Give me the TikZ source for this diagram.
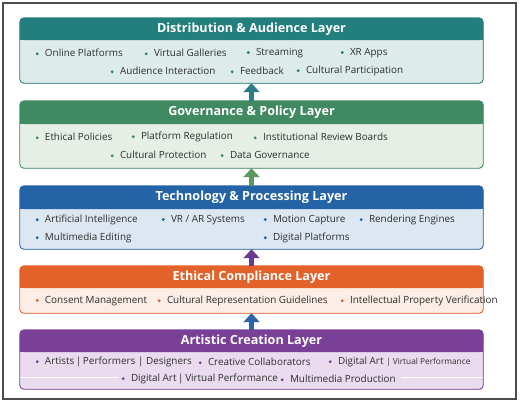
\documentclass[tikz,border=0pt]{standalone}
\usepackage{fontspec}
\setmainfont{Open Sans}
\usetikzlibrary{arrows.meta, shadows}
\definecolor{distHd}{HTML}{237F7E}
\definecolor{distBg}{HTML}{DDECEA}
\definecolor{distAr}{HTML}{2A7D89}
\definecolor{govHd}{HTML}{3F8A60}
\definecolor{govBg}{HTML}{E6EFE6}
\definecolor{govAr}{HTML}{5C995F}
\definecolor{techHd}{HTML}{2464A6}
\definecolor{techBg}{HTML}{DDE7F1}
\definecolor{techAr}{HTML}{6A3B8F}
\definecolor{ethHd}{HTML}{E2622A}
\definecolor{ethBg}{HTML}{FCEEE6}
\definecolor{ethAr}{HTML}{2D65A8}
\definecolor{artHd}{HTML}{7A3F97}
\definecolor{artBg}{HTML}{EADBEF}
\definecolor{txt}{HTML}{2E2E2E}
\tikzset{layer/.style={minimum width=463pt, inner sep=0pt, rounded corners=4pt, fill=#1, drop shadow={opacity=0.18, shadow xshift=0.8pt, shadow yshift=-1.2pt}}}
\tikzset{title/.style={text=white, inner sep=0pt, font=\bfseries\fontsize{12.6}{14}\selectfont}}
\tikzset{item/.style={anchor=west, inner sep=0pt, text=txt, font=\fontsize{9.9}{12}\selectfont}}
\tikzset{uparrow/.style={#1, line width=5pt, -{Triangle[width=16pt, length=9pt]}}}
\newcommand{\bul}[1]{\tikz[baseline=-2.9pt]\fill[#1] (0,0) circle (1.6pt);\hspace{6.2pt}}

\begin{document}
\begin{tikzpicture}[x=1pt, y=-1pt]
\useasboundingbox (0,0) rectangle (520,402);
\fill[white] (0,0) rectangle (520,402);
\draw[line width=1.2pt, black!70] (3,3) rectangle (516,399);
% layer boxes: name/header/body/top/header bottom/bottom
\foreach \nm/\hd/\bg/\ya/\yh/\yb in {dist/distHd/distBg/18/40/83, gov/govHd/govBg/101/124/168, tech/techHd/techBg/186/209/249, eth/ethHd/ethBg/266/288/313, art/artHd/artBg/330/352/389}{
  \pgfmathsetmacro\cy{(\ya+\yb)/2}
  \pgfmathsetmacro\lh{\yb-\ya}
  \node[layer=\bg, minimum height=\lh pt] (\nm) at (251.5,\cy) {};
  \fill[\hd, rounded corners=4pt] (20,\ya) rectangle (483,\yh);
  \fill[\hd] (20,\yh-8) rectangle (483,\yh);
  \draw[\hd, line width=0.8pt, rounded corners=4pt] (\nm.north west) rectangle (\nm.south east);
}
% titles
\node[title] (distT) at (251.5,29) {Distribution \& Audience Layer};
\node[title] (govT) at (251.5,112.5) {Governance \& Policy Layer};
\node[title] (techT) at (251.5,197.5) {Technology \& Processing Layer};
\node[title] (ethT) at (251.5,277) {Ethical Compliance Layer};
\node[title] (artT) at (251.5,341) {Artistic Creation Layer};
% distribution items
\node[item] (d1) at (35.4,53) {\bul{distHd}Online Platforms};
\node[item] (d2) at (144.4,53) {\bul{distHd}Virtual Galleries};
\node[item] (d3) at (246.4,53) {\bul{distHd}Streaming};
\node[item] (d4) at (340.4,53) {\bul{distHd}XR Apps};
\node[item] (d5) at (110.4,71) {\bul{distHd}Audience Interaction};
\node[item] (d6) at (230.4,71) {\bul{distHd}Feedback};
\node[item] (d7) at (296.4,71) {\bul{distHd}Cultural Participation};
% governance items
\node[item] (g1) at (35.4,137) {\bul{govHd}Ethical Policies};
\node[item] (g2) at (131.4,137) {\bul{govHd}Platform Regulation};
\node[item] (g3) at (253.4,137) {\bul{govHd}Institutional Review Boards};
\node[item] (g4) at (110.4,155) {\bul{govHd}Cultural Protection};
\node[item] (g5) at (220.4,155) {\bul{govHd}Data Governance};
% technology items
\node[item] (t1) at (35.4,220) {\bul{techHd}Artificial Intelligence};
\node[item] (t2) at (161.4,220) {\bul{techHd}VR / AR Systems};
\node[item] (t3) at (263.4,220) {\bul{techHd}Motion Capture};
\node[item] (t4) at (359.4,220) {\bul{techHd}Rendering Engines};
\node[item] (t5) at (35.4,238) {\bul{techHd}Multimedia Editing};
\node[item] (t6) at (263.4,238) {\bul{techHd}Digital Platforms};
% ethical items
\node[item] (e1) at (35.4,301) {\bul{ethHd}Consent Management};
\node[item] (e2) at (157.4,301) {\bul{ethHd}Cultural Representation Guidelines};
\node[item] (e3) at (340.4,301) {\bul{ethHd}Intellectual Property Verification};
% artistic items
\node[item] (a1) at (35.4,362) {\bul{artHd}Artists\,|\,Performers | Designers};
\node[item] (a2) at (198.4,362) {\bul{artHd}Creative Collaborators};
\node[item] (a3) at (328.4,362) {\bul{artHd}Digital Art {\fontsize{8.3}{10}\selectfont| Virtual Performance}};
\node[item] (a4) at (121.4,379) {\bul{artHd}Digital Art\,|\,Virtual Performance};
\node[item] (a5) at (280.4,379) {\bul{artHd}Multimedia Production};
\draw[white, line width=1pt] (art.west |- 0,377) -- ([xshift=-3pt]a4.west |- 0,377);
\draw[white, line width=1pt] ([xshift=5pt]a5.east |- 0,377) -- (art.east |- 0,377);
% arrows between layers
\draw[uparrow=distAr] (gov.north) -- (dist.south);
\draw[uparrow=govAr] (tech.north) -- (gov.south);
\draw[uparrow=techAr] (eth.north) -- (tech.south);
\draw[uparrow=ethAr] (art.north) -- (eth.south);
\end{tikzpicture}
\end{document}
